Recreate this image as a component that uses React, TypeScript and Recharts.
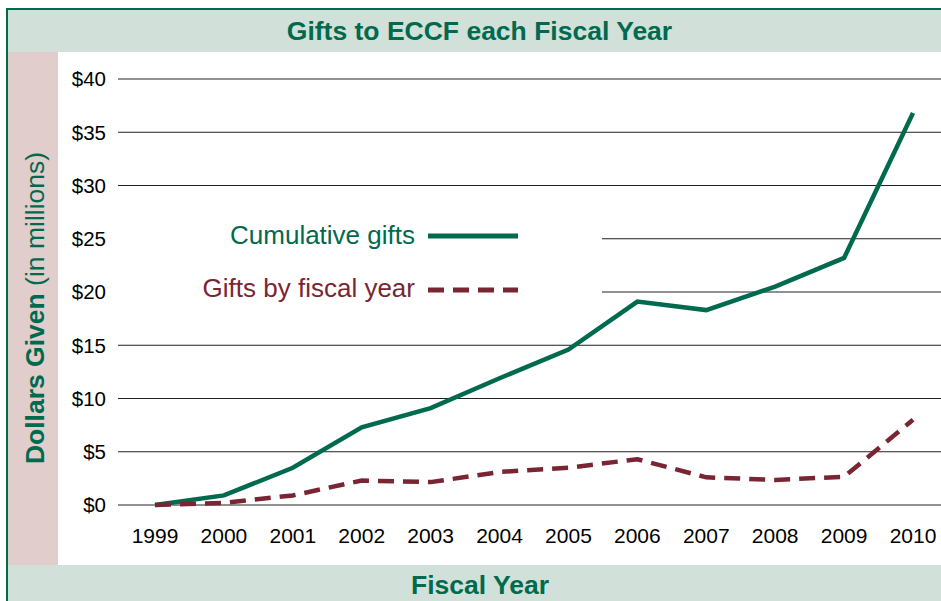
import React from 'react';
import { LineChart, Line, XAxis, YAxis, CartesianGrid, Legend } from 'recharts';

const years = ['1999', '2000', '2001', '2002', '2003', '2004', '2005', '2006', '2007', '2008', '2009', '2010'];
const cumulativeGifts = [0, 0.9, 3.5, 7.3, 9.1, 11.9, 14.6, 19.1, 18.3, 20.5, 23.2, 36.8];
const giftsByYear = [0, 0.2, 0.9, 2.3, 2.15, 3.1, 3.5, 4.3, 2.6, 2.35, 2.65, 8.0];
const yTicks = [0, 5, 10, 15, 20, 25, 30, 35, 40];

const GREEN = '#006a4e';
const MAROON = '#7a2533';
const LIGHT_GREEN = '#d1e0d8';
const PINK = '#e1cdcc';
const FONT = '"Liberation Sans", Arial, sans-serif';

const chartData = years.map((year, i) => ({
  year,
  cumulative: cumulativeGifts[i],
  fiscal: giftsByYear[i],
}));

const LegendBox = () => (
  <svg width={484} height={105} style={{ display: 'block' }}>
    <text x={297} y={30} textAnchor="end" dominantBaseline="central" fontSize={26} fill={GREEN} fontFamily={FONT}>
      Cumulative gifts
    </text>
    <line x1={310} x2={400} y1={31} y2={31} stroke={GREEN} strokeWidth={5} />
    <text x={297} y={83} textAnchor="end" dominantBaseline="central" fontSize={26} fill={MAROON} fontFamily={FONT}>
      Gifts by fiscal year
    </text>
    <line x1={310} x2={400} y1={85} y2={85} stroke={MAROON} strokeWidth={5} strokeDasharray="16 9" />
  </svg>
);

const App: React.FC = () => {
  return (
    <div style={{ position: 'absolute', left: 0, top: 0, width: 941, height: 601, background: '#fff', overflow: 'hidden', fontFamily: FONT }}>
      {/* frame */}
      <div style={{ position: 'absolute', left: 6, top: 8, width: 940, height: 600, borderTop: `2px solid ${GREEN}`, borderLeft: `2px solid ${GREEN}` }} />
      <div style={{ position: 'absolute', left: 8, top: 10, width: 933, height: 42, background: LIGHT_GREEN, display: 'flex', alignItems: 'center', justifyContent: 'center' }}>
        <span style={{ color: GREEN, fontWeight: 'bold', fontSize: 26.5, marginLeft: 10 }}>Gifts to ECCF each Fiscal Year</span>
      </div>
      <div style={{ position: 'absolute', left: 8, top: 52, width: 50, height: 513, background: PINK }}>
        <div style={{ position: 'absolute', left: 27, top: 256, transform: 'translate(-50%, -50%) rotate(-90deg)', whiteSpace: 'nowrap', color: GREEN, fontSize: 26.5 }}>
          <span style={{ fontWeight: 'bold' }}>Dollars Given</span> (in millions)
        </div>
      </div>
      <div style={{ position: 'absolute', left: 8, top: 565, width: 933, height: 36, background: LIGHT_GREEN, display: 'flex', alignItems: 'center', justifyContent: 'center' }}>
        <span style={{ color: GREEN, fontWeight: 'bold', fontSize: 26.5, marginLeft: 11, marginTop: 4 }}>Fiscal Year</span>
      </div>

      <div style={{ position: 'absolute', left: 58, top: 52 }}>
        <LineChart width={883} height={513} data={chartData} margin={{ top: 27, right: 0, left: 0, bottom: 0 }}>
          <CartesianGrid vertical={false} stroke="#222" strokeWidth={1} />
          <XAxis
            dataKey="year"
            axisLine={false}
            tickLine={false}
            height={60}
            padding={{ left: 37, right: 28 }}
            tickMargin={17}
            interval={0}
            tick={{ fontSize: 21, fill: '#000', fontFamily: FONT }}
          />
          <YAxis
            domain={[0, 40]}
            ticks={yTicks}
            width={60}
            axisLine={false}
            tickLine={false}
            tickMargin={6}
            tickFormatter={(v: number) => `$${v}`}
            tick={{ fontSize: 20.5, fill: '#000', fontFamily: FONT }}
          />
          <Legend
            layout="vertical"
            align="center"
            verticalAlign="middle"
            content={() => <LegendBox />}
            wrapperStyle={{ position: 'absolute', left: 60, top: 153, width: 484, height: 105, background: '#fff' }}
          />
          <Line
            type="linear"
            dataKey="cumulative"
            name="Cumulative gifts"
            stroke={GREEN}
            strokeWidth={4.5}
            dot={false}
            isAnimationActive={false}
          />
          <Line
            type="linear"
            dataKey="fiscal"
            name="Gifts by fiscal year"
            stroke={MAROON}
            strokeWidth={4.5}
            strokeDasharray="16 9"
            dot={false}
            isAnimationActive={false}
          />
        </LineChart>
      </div>
    </div>
  );
};

export default App;
